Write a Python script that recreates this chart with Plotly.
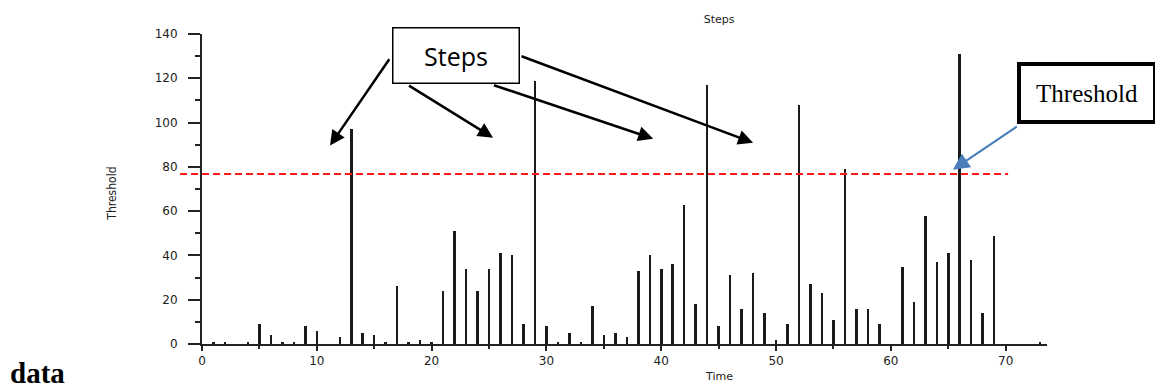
import plotly.graph_objects as go

# ---- data ----
time = list(range(0, 74))
steps = [0, 1, 1, 0, 1, 9, 4, 1, 1, 8,
         6, 0, 3, 97, 5, 4, 1, 26, 1, 2,
         1, 24, 51, 34, 24, 34, 41, 40, 9, 119,
         8, 1, 5, 1, 17, 4, 5, 3, 33, 40,
         34, 36, 63, 18, 117, 8, 31, 16, 32, 14,
         2, 9, 108, 27, 23, 11, 79, 16, 16, 9,
         0, 35, 19, 58, 37, 41, 131, 38, 14, 49,
         0, 0, 0, 1]
threshold = 76.8
x_ticks = [0, 10, 20, 30, 40, 50, 60, 70]
y_ticks = [0, 20, 40, 60, 80, 100, 120, 140]

# callout arrows: (tail_t, tail_v, tip_t, tip_v)
step_arrows = [(16.4, 129.3, 11.15, 89.6),
               (17.9, 117.1, 25.35, 93.2),
               (25.3, 117.1, 39.3, 92.7),
               (27.7, 130.2, 48.0, 90.9)]
threshold_arrow = (71.1, 98.6, 65.4, 78.7)

fig = go.Figure()
fig.add_trace(go.Bar(x=time, y=steps, width=0.22,
                     marker=dict(color="#1a1a1a", line=dict(width=0)),
                     showlegend=False, hoverinfo="x+y"))

tickfont = dict(family="DejaVu Sans", size=12, color="#222")

# the page body has an 8px margin, so the figure is 8px smaller and margins shifted
fig.update_layout(
    width=1155, height=380, autosize=False,
    margin=dict(l=194, r=116, t=26, b=44, pad=0),
    paper_bgcolor="white", plot_bgcolor="white",
    bargap=0,
    title=dict(text="Steps", x=0.612, xref="paper", xanchor="center",
               y=1 - 11 / 380, yanchor="middle",
               font=dict(family="DejaVu Sans", size=11, color="#222")),
    xaxis=dict(range=[0, 73.6], tickvals=x_ticks, ticks="outside", ticklen=5,
               tickwidth=2, tickcolor="#222", showline=True, linecolor="#222",
               linewidth=1.5, showgrid=False, zeroline=False, tickfont=tickfont,
               minor=dict(dtick=5, tick0=0, ticks="outside", ticklen=3,
                          tickwidth=2, tickcolor="#222")),
    xaxis2=dict(range=[0, 73.6], overlaying="x", anchor="y", side="bottom",
                tickvals=x_ticks, ticks="inside", ticklen=3, tickwidth=2,
                tickcolor="#222", showticklabels=False, showline=False,
                showgrid=False, zeroline=False),
    yaxis=dict(range=[0, 140], tickvals=y_ticks, ticks="outside", ticklen=12,
               tickwidth=1.5, tickcolor="#222", showline=True, linecolor="#222",
               linewidth=2, showgrid=False, zeroline=False, tickfont=tickfont,
               ticklabelstandoff=8,
               minor=dict(dtick=10, tick0=0, ticks="outside", ticklen=5,
                          tickwidth=1.5, tickcolor="#222")),
)

# threshold line (horizontal extent in paper units, level in data units)
fig.add_shape(type="line", xref="paper", yref="y", x0=-0.026, x1=0.954,
              y0=threshold, y1=threshold,
              line=dict(color="#ff1a1a", width=2, dash="7px,4px"))

annotations = []
# axis titles
annotations.append(dict(text="Time", xref="paper", yref="paper", x=0.612, y=-0.105,
                        showarrow=False, xanchor="center", yanchor="middle",
                        font=dict(family="DejaVu Sans", size=11, color="#222")))
annotations.append(dict(text="Threshold", xref="paper", yref="paper", x=-0.1065, y=0.485,
                        showarrow=False, textangle=-90, xanchor="center", yanchor="middle",
                        font=dict(family="Liberation Sans Narrow, DejaVu Sans Condensed, sans-serif",
                                  size=12, color="#222")))
annotations.append(dict(text="<b>data</b>", xref="paper", yref="paper", x=-0.2296, y=-0.092,
                        showarrow=False, xanchor="left", yanchor="middle",
                        font=dict(family="Liberation Serif, serif", size=29, color="black")))

for (tt, tv, ht, hv) in step_arrows:
    annotations.append(dict(text="", x=ht, y=hv, xref="x", yref="y",
                            ax=tt, ay=tv, axref="x", ayref="y",
                            showarrow=True, arrowhead=2, arrowsize=1.2,
                            arrowwidth=2.5, arrowcolor="black"))

annotations.append(dict(text="", x=threshold_arrow[2], y=threshold_arrow[3], xref="x", yref="y",
                        ax=threshold_arrow[0], ay=threshold_arrow[1], axref="x", ayref="y",
                        showarrow=True, arrowhead=2, arrowsize=1.5,
                        arrowwidth=2.2, arrowcolor="#4a7ebb"))

# callout boxes
annotations.append(dict(text="Steps", xref="paper", yref="paper", x=0.3006, y=0.931,
                        showarrow=False, xanchor="center", yanchor="middle",
                        width=125, height=54, borderwidth=1.5, borderpad=0,
                        bordercolor="black", bgcolor="white",
                        font=dict(family="Open Sans", size=25, color="black")))
annotations.append(dict(text="Threshold", xref="paper", yref="paper", x=1.0473, y=0.8106,
                        showarrow=False, xanchor="center", yanchor="middle",
                        width=132, height=54, borderwidth=4, borderpad=0,
                        bordercolor="black", bgcolor="white",
                        font=dict(family="Liberation Serif, serif", size=25, color="black")))

fig.update_layout(annotations=annotations)
fig.write_html("out.html")
